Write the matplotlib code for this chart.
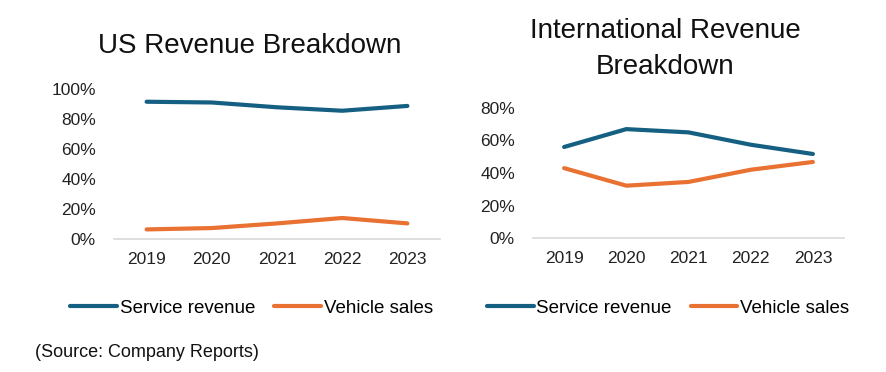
import matplotlib
matplotlib.use("Agg")
import matplotlib.pyplot as plt
from matplotlib import font_manager
from matplotlib.ticker import PercentFormatter

years = ["2019", "2020", "2021", "2022", "2023"]
us_service = [91.5, 91.0, 87.8, 85.5, 88.7]
us_vehicle = [6.4, 7.3, 10.4, 14.0, 10.4]
intl_service = [56.0, 67.0, 65.0, 57.4, 51.7]
intl_vehicle = [43.0, 32.2, 34.5, 42.0, 46.8]

blue = "#156082"
orange = "#E97132"

names = {f.name for f in font_manager.fontManager.ttflist}
main_font = "Liberation Sans"
narrow_font = "Liberation Sans Narrow" if "Liberation Sans Narrow" in names else "Liberation Sans"
plt.rcParams["font.family"] = [main_font, "DejaVu Sans"]

fig = plt.figure(figsize=(8.86, 3.72), dpi=100)
ax1 = fig.add_axes([0.1287, 0.3575, 0.3679, 0.4033])
ax2 = fig.add_axes([0.6016, 0.3602, 0.3510, 0.3495])


def style(ax, svc, veh, ymax):
    x = range(len(years))
    l1, = ax.plot(x, svc, color=blue, lw=3, solid_capstyle="round", label="Service revenue")
    l2, = ax.plot(x, veh, color=orange, lw=3, solid_capstyle="round", label="Vehicle sales")
    ax.set_xlim(-0.5, len(years) - 0.5)
    ax.set_ylim(0, ymax)
    ax.set_yticks(range(0, ymax + 1, 20))
    ax.yaxis.set_major_formatter(PercentFormatter(decimals=0))
    ax.set_xticks(list(x))
    ax.set_xticklabels(years)
    for s in ["top", "right", "left"]:
        ax.spines[s].set_visible(False)
    ax.spines["bottom"].set_color("#D9D9D9")
    ax.spines["bottom"].set_linewidth(1.2)
    ax.tick_params(axis="y", length=0, pad=13, labelsize=12.5, colors="#222222")
    ax.tick_params(axis="x", length=0, pad=9, labelsize=12.5, colors="#222222")
    return l1, l2


h1 = style(ax1, us_service, us_vehicle, 100)
h2 = style(ax2, intl_service, intl_vehicle, 80)

fig.text(0.282, 0.877, "US Revenue Breakdown", fontsize=20, ha="center", va="center", color="#111111")
fig.text(0.751, 0.868, "International Revenue\nBreakdown", fontsize=20, ha="center", va="center",
         color="#111111", linespacing=1.52)

leg_kw = dict(ncol=2, frameon=False, handlelength=2.5, handletextpad=0.15, columnspacing=1.0,
              prop={"family": narrow_font, "size": 13.5})
fig.legend(h1, ["Service revenue", "Vehicle sales"], loc="center", bbox_to_anchor=(0.284, 0.172), **leg_kw)
fig.legend(h2, ["Service revenue", "Vehicle sales"], loc="center", bbox_to_anchor=(0.754, 0.172), **leg_kw)

fig.text(0.039, 0.052, "(Source: Company Reports)", fontsize=13, family=narrow_font, ha="left", va="center",
         color="#111111")

fig.savefig("out.png", dpi=100)
